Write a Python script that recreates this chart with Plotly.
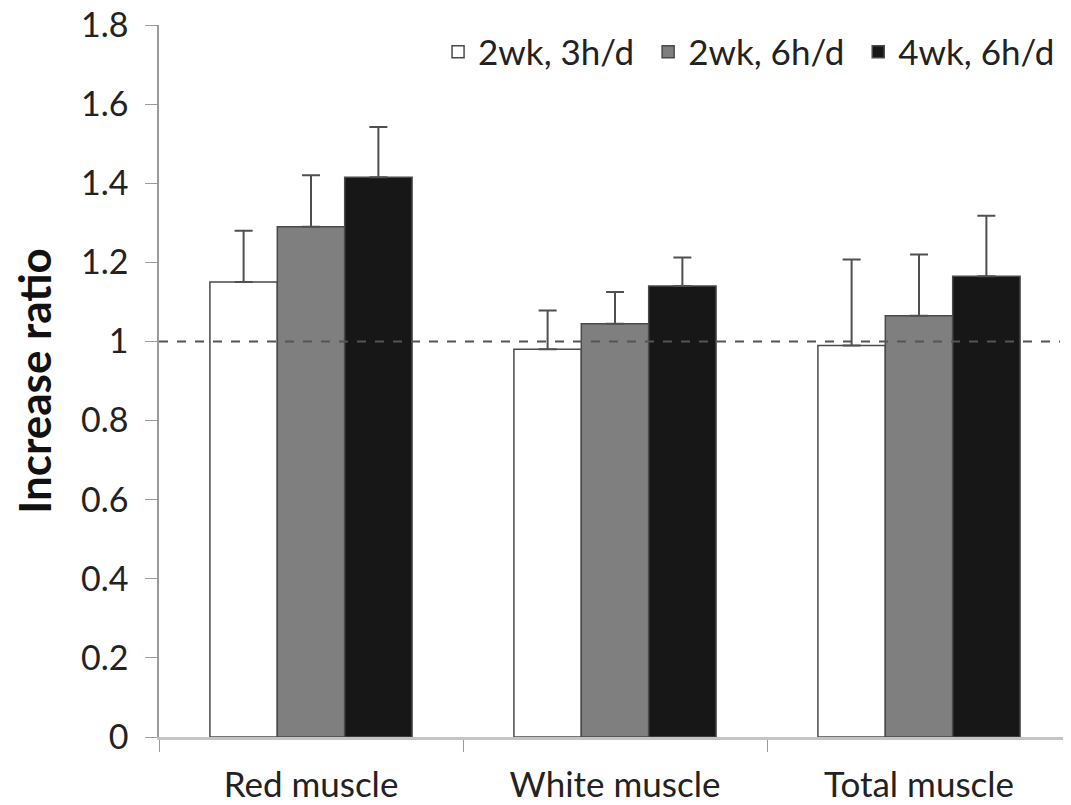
import plotly.graph_objects as go

# Datos
categorias = ["Red muscle", "White muscle", "Total muscle"]
series = ["2wk, 3h/d", "2wk, 6h/d", "4wk, 6h/d"]
valores = {
    "2wk, 3h/d": [1.15, 0.98, 0.99],
    "2wk, 6h/d": [1.29, 1.045, 1.065],
    "4wk, 6h/d": [1.415, 1.14, 1.165],
}
errores = {
    "2wk, 3h/d": [0.13, 0.098, 0.217],
    "2wk, 6h/d": [0.13, 0.08, 0.155],
    "4wk, 6h/d": [0.127, 0.072, 0.153],
}
y_ticks = [0, 0.2, 0.4, 0.6, 0.8, 1, 1.2, 1.4, 1.6, 1.8]
y_ticktext = ["0", "0.2", "0.4", "0.6", "0.8", "1", "1.2", "1.4", "1.6", "1.8"]
linea_ref = 1

COLORES = {
    "2wk, 3h/d": "#ffffff",
    "2wk, 6h/d": "#7f7f7f",
    "4wk, 6h/d": "#171717",
}
FUENTE = "Lato, Open Sans, sans-serif"

fig = go.Figure()

for i, s in enumerate(series):
    # espacio extra entre elementos de la leyenda
    nombre = s + ("\u00a0" if i < len(series) - 1 else "")
    fig.add_trace(go.Bar(
        x=categorias, y=valores[s], name=nombre,
        marker=dict(color=COLORES[s], line=dict(color="#4a4a4a", width=1.5)),
        error_y=dict(type="data", array=errores[s],
                     arrayminus=[0] * len(errores[s]), symmetric=False,
                     color="#505050", thickness=2, width=9),
    ))

# Línea de referencia en 1
fig.add_shape(type="line", xref="paper", yref="y",
              x0=0, x1=0.988, y0=linea_ref, y1=linea_ref,
              line=dict(color="#555555", width=2, dash="dash"))

# la página tiene 8 px de margen en el body: tamaño y márgenes compensados
fig.update_layout(
    width=1063, height=797,
    margin=dict(l=151, r=0, t=17, b=68),
    barmode="group", bargap=0.335, bargroupgap=0,
    paper_bgcolor="white", plot_bgcolor="white",
    font=dict(family=FUENTE, color="#222222", size=33),
    legend=dict(orientation="h", x=0.988, xanchor="right", y=0.962, yanchor="middle",
                font=dict(size=35, color="#222222"), itemwidth=30,
                traceorder="normal", bgcolor="rgba(0,0,0,0)"),
    showlegend=True,
)
fig.update_xaxes(
    range=[-0.5, 2.5], showline=True, linecolor="#c4c4c4", linewidth=3,
    ticks="outside", tickson="boundaries", ticklen=12, tickcolor="#9a9a9a",
    tickfont=dict(size=35, color="#222222"), ticklabelstandoff=15,
    showgrid=False, zeroline=False, automargin=False,
)
fig.update_yaxes(
    range=[0, 1.8], tickvals=y_ticks, ticktext=y_ticktext,
    showline=True, linecolor="#9a9a9a", linewidth=1.5,
    ticks="outside", ticklen=12, tickcolor="#9a9a9a",
    tickfont=dict(size=34, color="#222222"), ticklabelstandoff=10,
    ticklabeloverflow="allow", automargin=False,
    showgrid=False, zeroline=False,
    title=dict(text="<b>Increase ratio</b>", font=dict(size=44, color="#111111"),
               standoff=30),
)

fig.write_html("out.html")
